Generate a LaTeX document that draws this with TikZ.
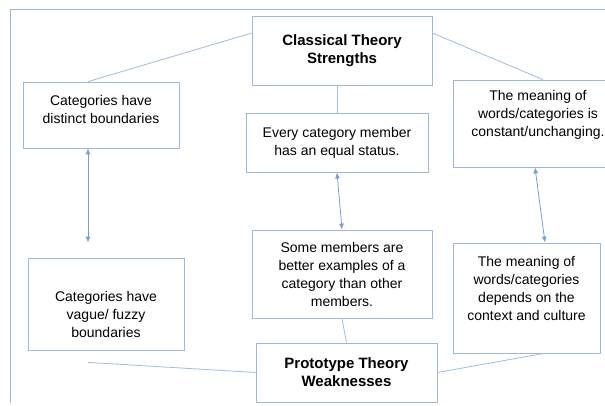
\documentclass[tikz,border=0pt]{standalone}
\usepackage{fontspec}
\setmainfont{Liberation Sans}
\usetikzlibrary{arrows.meta,calc}
\definecolor{boxline}{RGB}{158,184,216}
\definecolor{linkline}{RGB}{160,188,222}
\definecolor{arrowline}{RGB}{122,158,210}

\begin{document}
\begin{tikzpicture}[x=1pt,y=-1pt,
                    box/.style={draw=boxline,line width=0.8pt,align=center,inner sep=0pt,
                                font=\fontsize{14}{18}\selectfont},
                    headbox/.style={box,font=\bfseries\fontsize{15}{18}\selectfont},
                    link/.style={draw=linkline,line width=0.8pt},
                    twoway/.style={draw=arrowline,line width=0.8pt,
                                   {Latex[length=6pt,width=5pt]}-{Latex[length=6pt,width=5pt]}}]
                    \useasboundingbox (0,0) rectangle (605,406);
                    \clip (0,0) rectangle (605,406);
                    \coordinate (frameb) at (10,403);
                    \coordinate (framel) at (10,9);
                    \coordinate (framer) at (605,9);
                    \draw[draw=boxline,line width=0.8pt] (frameb) -- (framel) -- (framer);
                    \node[headbox,minimum width=180pt,minimum height=69pt] (cls) at (342,50.5) {Classical Theory\\Strengths};
                    \node[box,minimum width=156pt,minimum height=66pt] (dist) at (101,115) {Categories have\\distinct boundaries\rule[-12pt]{0pt}{0pt}};
                    \node[box,minimum width=182pt,minimum height=59pt] (mtop) at (337,142.5) {Every category member\\has an equal status.};
                    \node[box,minimum width=170pt,minimum height=87pt] (rtop) at (538,123.5) {The meaning of\\words/categories is\\constant/unchanging.\rule[-20pt]{0pt}{0pt}};
                    \node[box,minimum width=156pt,minimum height=92pt] (lbot) at (106,304) {\rule{0pt}{32pt}Categories have\\vague/ fuzzy\\boundaries};
                    \node[box,minimum width=180pt,minimum height=88pt] (mbot) at (342,274) {Some members are\\better examples of a\\category than other\\members.};
                    \node[box,minimum width=147pt,minimum height=110pt] (rbot) at (526.5,298) {The meaning of\\words/categories\\depends on the\\context and culture\rule[-20pt]{0pt}{0pt}};
                    \node[headbox,minimum width=181pt,minimum height=59pt] (proto) at (346.5,372.5) {Prototype Theory\\Weaknesses};
                    \coordinate (lbotfoot) at ([xshift=-18pt,yshift=-12pt]lbot.south);
                    \draw[link] ($(cls.north west)!0.25!(cls.south west)$) -- ([xshift=-13pt]dist.north);
                    \draw[link] ($(cls.north east)!0.25!(cls.south east)$) -- ([xshift=5pt]rtop.north);
                    \draw[link] (mtop.north |- cls.south) -- (mtop.north);
                    \draw[link] (mbot.south) -- (proto.north);
                    \draw[link] (lbotfoot) -- (proto.west);
                    \draw[link] ([xshift=17.5pt]rbot.south) -- (proto.east);
                    \draw[twoway] ([xshift=-13pt]dist.south) -- ([xshift=-18pt,yshift=15pt]lbot.north);
                    \draw[twoway] (mtop.south) -- (mbot.north);
                    \draw[twoway] ([xshift=-3pt]rtop.south) -- ([xshift=18.5pt]rbot.north);
\end{tikzpicture}
\end{document}
